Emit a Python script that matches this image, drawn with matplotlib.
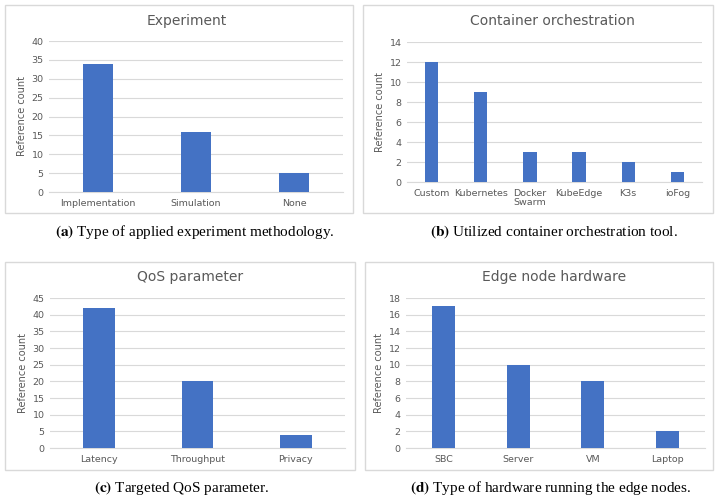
import matplotlib.pyplot as plt
from matplotlib.patches import Rectangle

W, H = 719, 500

exp_labels = ["Implementation", "Simulation", "None"]
exp_counts = [34, 16, 5]

orch_labels = ["Custom", "Kubernetes", "Docker\nSwarm", "KubeEdge", "K3s", "ioFog"]
orch_counts = [12, 9, 3, 3, 2, 1]

qos_labels = ["Latency", "Throughput", "Privacy"]
qos_counts = [42, 20, 4]

hw_labels = ["SBC", "Server", "VM", "Laptop"]
hw_counts = [17, 10, 8, 2]

BAR = '#4472C4'
TXT = '#595959'
GRID = '#D9D9D9'


def px_axes(fig, left, top, right, bottom):
    return fig.add_axes([left / W, 1 - bottom / H, (right - left) / W, (bottom - top) / H])


def px_box(fig, left, top, right, bottom):
    fig.patches.append(Rectangle((left / W, 1 - bottom / H), (right - left) / W, (bottom - top) / H,
                                 transform=fig.transFigure, fill=False, edgecolor=GRID, linewidth=1))


def bar_panel(ax, labels, counts, ymax, step, width):
    x = range(len(labels))
    ax.bar(x, counts, width=width, color=BAR, zorder=3)
    ax.set_xlim(-0.5, len(labels) - 0.5)
    ax.set_ylim(0, ymax)
    ax.set_yticks(range(0, ymax + 1, step))
    ax.set_xticks(list(x))
    ax.set_xticklabels(labels, linespacing=1.0)
    ax.tick_params(axis='both', length=0, labelsize=6.8, colors=TXT)
    ax.tick_params(axis='x', pad=5)
    ax.tick_params(axis='y', pad=4)
    ax.grid(axis='y', color=GRID, linewidth=0.8, zorder=0)
    for s in ['top', 'right', 'left']:
        ax.spines[s].set_visible(False)
    ax.spines['bottom'].set_color(GRID)
    ax.set_ylabel("Reference count", fontsize=7, color=TXT, labelpad=3)


fig = plt.figure(figsize=(W / 100, H / 100), dpi=100)

panels = [
    # box, axes, title pos, caption pos, data
    ((5, 5, 353, 213), (49, 41, 343, 192), (187, 21), (195, 232), "Experiment",
     exp_labels, exp_counts, 40, 5, 0.31, "(a)", " Type of applied experiment methodology."),
    ((363, 5, 713, 213), (407, 42, 702, 182), (552, 21), (554, 232), "Container orchestration",
     orch_labels, orch_counts, 14, 2, 0.27, "(b)", " Utilized container orchestration tool."),
    ((5, 262, 355, 470), (50, 298, 345, 448), (190, 277), (182, 488), "QoS parameter",
     qos_labels, qos_counts, 45, 5, 0.32, "(c)", " Targeted QoS parameter."),
    ((365, 262, 713, 470), (406, 298, 705, 448), (554, 277), (551, 488), "Edge node hardware",
     hw_labels, hw_counts, 18, 2, 0.31, "(d)", " Type of hardware running the edge nodes."),
]

for box, axp, tpos, cpos, title, labels, counts, ymax, step, width, tag, caption in panels:
    px_box(fig, *box)
    ax = px_axes(fig, *axp)
    bar_panel(ax, labels, counts, ymax, step, width)
    fig.text(tpos[0] / W, 1 - tpos[1] / H, title, ha='center', va='center', fontsize=10, color=TXT)
    fig.text(cpos[0] / W, 1 - cpos[1] / H, r"$\mathbf{" + tag + "}$" + caption, ha='center', va='center',
             fontsize=11, family='Liberation Serif', math_fontfamily='stix')

fig.savefig("out.png", dpi=100)
